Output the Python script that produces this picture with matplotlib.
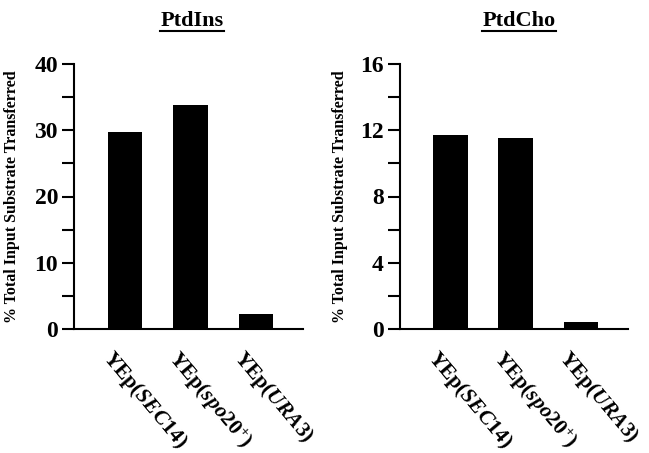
import matplotlib
matplotlib.use("Agg")
import matplotlib.pyplot as plt
import matplotlib.transforms as mtransforms
from matplotlib.lines import Line2D
from matplotlib.ticker import MultipleLocator

plt.rcParams['font.family'] = 'Liberation Serif'
plt.rcParams['font.weight'] = 'bold'
plt.rcParams['mathtext.fontset'] = 'custom'
plt.rcParams['mathtext.rm'] = 'Liberation Serif:bold'
plt.rcParams['mathtext.it'] = 'Liberation Serif:italic:bold'
plt.rcParams['mathtext.bf'] = 'Liberation Serif:bold'

strains = [r'YEp($\mathit{SEC14}$)', r'YEp($\mathit{spo20}^{+}$)', r'YEp($\mathit{URA3}$)']
ptdins = [29.7, 33.8, 2.3]
ptdcho = [11.7, 11.55, 0.45]
titles = ['PtdIns', 'PtdCho']
ylims = [40, 16]
major_steps = [10, 4]
ylabel = '% Total Input Substrate Transferred'

fig = plt.figure(figsize=(6.49, 4.53), dpi=100)
ax1 = fig.add_axes([74 / 649, 124 / 453, 229 / 649, 265 / 453])
ax2 = fig.add_axes([399.5 / 649, 124 / 453, 228.5 / 649, 265 / 453])

title_pos = [(192, 26), (519, 26)]

for ax, vals, title, ymax, step, tp in zip([ax1, ax2], [ptdins, ptdcho], titles,
                                          ylims, major_steps, title_pos):
    x = range(len(vals))
    ax.bar(x, vals, width=0.53, color='black')
    ax.set_xlim(-0.78, 2.72)
    ax.set_ylim(0, ymax)
    ax.yaxis.set_major_locator(MultipleLocator(step))
    ax.yaxis.set_minor_locator(MultipleLocator(step / 2))
    for s in ['top', 'right']:
        ax.spines[s].set_visible(False)
    for s in ['left', 'bottom']:
        ax.spines[s].set_linewidth(1.5)
    ax.tick_params(axis='y', which='both', direction='out', length=8.5, width=1.5,
                   labelsize=17, pad=3)
    ax.tick_params(axis='x', length=0, pad=13)
    ax.set_xticks(list(x))
    ax.set_xticklabels(strains, fontsize=15.5, fontweight='bold')
    offset = mtransforms.ScaledTranslation(-10 / 100, 0, fig.dpi_scale_trans)
    for lab in ax.get_xticklabels():
        lab.set_rotation(-50)
        lab.set_ha('left')
        lab.set_va('top')
        lab.set_rotation_mode('anchor')
        lab.set_transform(lab.get_transform() + offset)
    for lab in ax.get_yticklabels():
        lab.set_fontweight('bold')
    ax.set_ylabel(ylabel, fontsize=11.5, fontweight='bold')
    ax.yaxis.set_label_coords(-0.235 if ax is ax1 else -0.225, 0.5)
    t = fig.text(tp[0] / 649, 1 - tp[1] / 453, title, fontsize=16,
                 fontweight='bold', ha='center', va='baseline')
    ax._title_text = t

fig.canvas.draw()
renderer = fig.canvas.get_renderer()
for ax in [ax1, ax2]:
    bb = ax._title_text.get_window_extent(renderer)
    y = 1 - 31 / 453
    fig.add_artist(Line2D([bb.x0 / 649, bb.x1 / 649], [y, y], color='black',
                          linewidth=1.5, transform=fig.transFigure))

fig.savefig('out.png', dpi=100)
